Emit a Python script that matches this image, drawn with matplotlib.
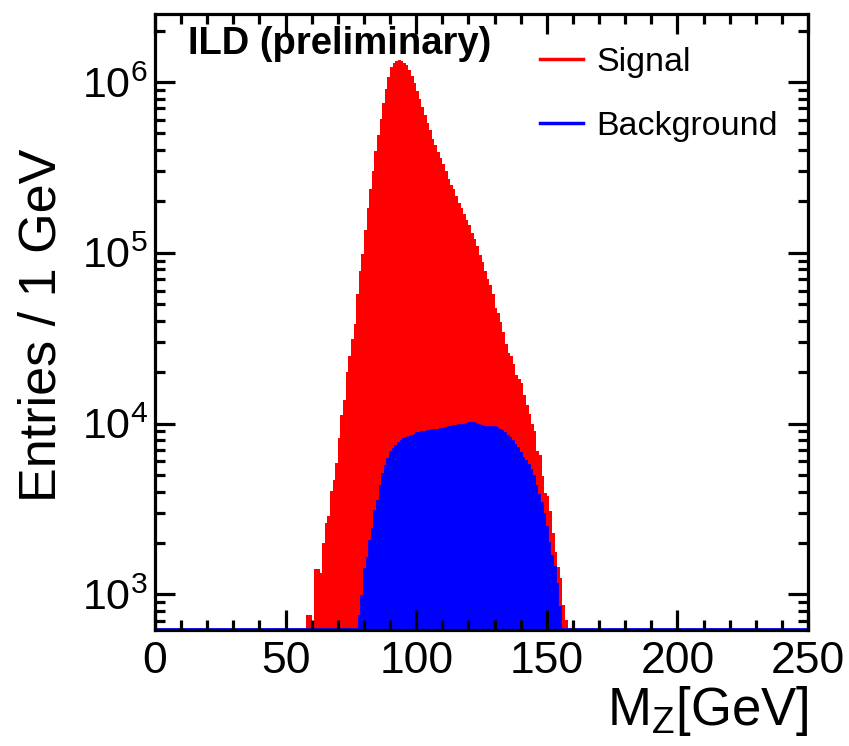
import numpy as np
import matplotlib.pyplot as plt
from matplotlib.lines import Line2D
from matplotlib.ticker import LogLocator, MultipleLocator, NullFormatter

plt.rcParams['font.family'] = ['Liberation Sans', 'DejaVu Sans']
plt.rcParams['mathtext.fontset'] = 'custom'
plt.rcParams['mathtext.rm'] = 'Liberation Sans'
plt.rcParams['mathtext.it'] = 'Liberation Sans:italic'

# histogramas de 1 GeV entre 0 y 250 GeV
signal_first_bin = 58
signal = [760, 760, 0, 1400, 1400, 1330, 2010, 2600, 2880, 4010,
          4680, 5880, 8190, 11200, 13700, 20000, 24800, 31400, 38500, 57000,
          78700, 98500, 136000, 184000, 235000, 303000, 392000, 488000, 607000, 753000,
          908000, 1064000, 1222000, 1300000, 1330000, 1340000, 1330000, 1300000, 1250000, 1180000,
          1087000, 982000, 891000, 800000, 715000, 645000, 577000, 521000, 463000, 429000,
          391000, 359000, 332000, 300000, 271000, 251000, 235000, 215000, 197000, 182000,
          169000, 156000, 145000, 131000, 121000, 109000, 97500, 88100, 78700, 70000,
          64900, 57100, 47700, 44200, 39300, 34300, 29400, 25900, 24800, 22400,
          19200, 18300, 17200, 14600, 12800, 11400, 9910, 9080, 6920, 6510,
          4920, 3910, 3750, 3060, 2290, 1770, 1440, 1240, 867, 707]

background_first_bin = 78
background = [743, 984, 1410, 1640, 2060, 2410, 3060, 3530, 4330, 5040,
              5640, 6190, 6780, 7100, 7400, 7670, 7870, 8080, 8200, 8330,
              8500, 8590, 8760, 8850, 8900, 8940, 8990, 9030, 9130, 9170,
              9220, 9270, 9310, 9450, 9500, 9550, 9650, 9700, 9800, 9800,
              9850, 9950, 10050, 10100, 10000, 9800, 9650, 9600, 9600, 9600,
              9550, 9500, 9400, 9220, 9030, 8760, 8500, 8240, 7910, 7520,
              7150, 6680, 6250, 6040, 5730, 5370, 4920, 4330, 3810, 3440,
              2950, 2470, 2010, 1680, 1440, 1150, 845]

x_ticks = [0, 50, 100, 150, 200, 250]
y_min, y_max = 618, 2.52e6

edges = np.arange(0, 251)
sig = np.zeros(250)
sig[signal_first_bin:signal_first_bin + len(signal)] = signal
bkg = np.zeros(250)
bkg[background_first_bin:background_first_bin + len(background)] = background

fig = plt.figure(figsize=(8.49, 7.46), dpi=100)
ax = fig.add_axes([155 / 849, 116 / 746, 653 / 849, 616.5 / 746])
ax.set_yscale('log')

ax.stairs(np.clip(sig, 1, None), edges, fill=True, color='red', baseline=1)
ax.stairs(np.clip(bkg, 1, None), edges, fill=True, color='blue', baseline=1)
# contorno del fondo (se ve como linea azul en la base)
ax.stairs(np.maximum(bkg, y_min * 1.012), edges, color='blue', lw=2, baseline=None)

ax.set_xlim(0, 250)
ax.set_ylim(y_min, y_max)
ax.set_xticks(x_ticks)
ax.xaxis.set_minor_locator(MultipleLocator(10))
ax.yaxis.set_major_locator(LogLocator(base=10))
ax.yaxis.set_minor_locator(LogLocator(base=10, subs=np.arange(2, 10)))
ax.yaxis.set_minor_formatter(NullFormatter())

ax.tick_params(which='both', direction='in', top=True, right=True, width=2.3)
ax.tick_params(which='major', length=14.5)
ax.tick_params(which='minor', length=7.5)
ax.tick_params(axis='x', labelsize=32, pad=8)
ax.tick_params(axis='y', labelsize=31, pad=5)
for s in ax.spines.values():
    s.set_linewidth(2.3)

ax.set_xlabel(r'M$_{\mathrm{Z}}$[GeV]', fontsize=38, loc='right')
ax.xaxis.set_label_coords(1.0, -0.088)
ax.set_ylabel('Entries / 1 GeV', fontsize=37.5)
ax.yaxis.set_label_coords(-0.135, 0.495)

ax.text(0.05, 0.951, 'ILD (preliminary)', transform=ax.transAxes,
        fontsize=27.5, fontweight='bold', va='center', ha='left')

handles = [Line2D([], [], color='red', lw=2.5), Line2D([], [], color='blue', lw=2.5)]
ax.legend(handles, ['Signal', 'Background'], loc='upper left',
          bbox_to_anchor=(0.59, 0.945), frameon=False, fontsize=24.5,
          handlelength=1.25, handletextpad=0.4, labelspacing=0.95,
          borderaxespad=0, borderpad=0)

fig.savefig('out.png', dpi=100)
